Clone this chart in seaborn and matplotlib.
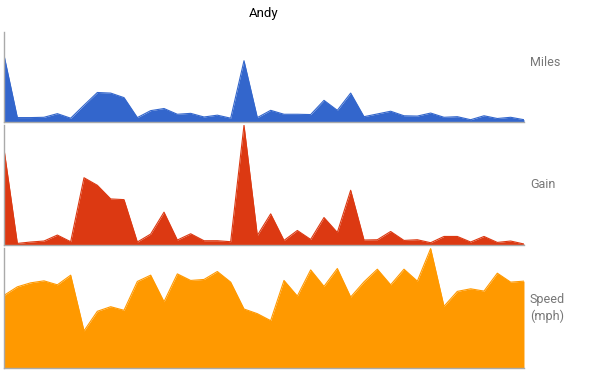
import matplotlib
matplotlib.use("Agg")
import matplotlib.pyplot as plt
import numpy as np
import pandas as pd
import seaborn as sns

TITLE = "Andy"

miles = [22.2, 1.6, 1.6, 1.7, 2.9, 1.4, 5.7, 9.9, 9.7, 8.2,
         1.6, 3.9, 4.6, 2.7, 3.0, 1.8, 2.4, 1.4, 20.4, 1.6,
         4.0, 2.7, 2.7, 2.6, 7.3, 4.0, 9.7, 1.9, 2.8, 3.7,
         2.2, 2.1, 3.1, 1.7, 1.9, 0.9, 2.2, 1.3, 1.7, 0.9]
gain = [960, 13, 27, 37, 97, 30, 673, 597, 460, 453,
        27, 107, 327, 47, 110, 40, 40, 30, 1200, 93,
        310, 43, 143, 53, 273, 123, 547, 47, 50, 133,
        43, 50, 20, 83, 83, 27, 83, 23, 37, 7]
speed = [7.27, 8.13, 8.53, 8.73, 8.33, 9.3, 3.7, 5.67, 6.13, 5.77,
         8.67, 9.3, 6.63, 9.43, 8.77, 8.87, 9.67, 8.6, 5.9, 5.43,
         4.73, 8.77, 7.2, 9.83, 8.17, 9.97, 7.1, 8.63, 9.9, 8.33,
         9.9, 8.7, 11.97, 6.17, 7.67, 7.93, 7.7, 9.5, 8.6, 8.7]

series_names = ["Miles", "Gain", "Speed\n(mph)"]
series_colors = ["#3366CC", "#DC3912", "#FF9900"]
series_max = [30, 1200, 12]

df = pd.DataFrame({"ride": np.arange(len(miles)), "Miles": miles,
                   "Gain": gain, "Speed\n(mph)": speed})

sns.set_style("white")
plt.rcParams["font.family"] = ["Roboto", "DejaVu Sans"]

fig = plt.figure(figsize=(6, 3.71), dpi=100)

# panel boxes in figure fractions: [left, bottom, width, height]
boxes = [
    [0.0067, 0.670, 0.8666, 0.2446],
    [0.0067, 0.3404, 0.8666, 0.3219],
    [0.0067, 0.0089, 0.8666, 0.3218],
]

for name, color, ymax, box in zip(series_names, series_colors, series_max, boxes):
    ax = fig.add_axes(box)
    sns.lineplot(data=df, x="ride", y=name, color=color, lw=0.8, ax=ax)
    ax.fill_between(df["ride"], df[name], 0, color=color, lw=0)
    ax.set_xlim(0, len(df) - 1)
    ax.set_ylim(0, ymax)
    ax.set_xticks([])
    ax.set_yticks([])
    ax.set_xlabel("")
    ax.set_ylabel("")
    for side in ["top", "right"]:
        ax.spines[side].set_visible(False)
    for side in ["left", "bottom"]:
        ax.spines[side].set_color("#aaaaaa")
        ax.spines[side].set_linewidth(1)
    top = box[1] + box[3]
    mid = box[1] + box[3] / 2
    ypos = {0: 1 - 62 / 371, 1: 1 - 185 / 371, 2: 1 - 308 / 371}[boxes.index(box)]
    fig.text(530 / 600, ypos, name, color="#777777", fontsize=9,
             ha="left", va="center", linespacing=1.3)

fig.text(264 / 600, 1 - 13 / 371, TITLE, color="#000000", fontsize=9.5,
         ha="center", va="center")

fig.savefig("out.png", dpi=100)
